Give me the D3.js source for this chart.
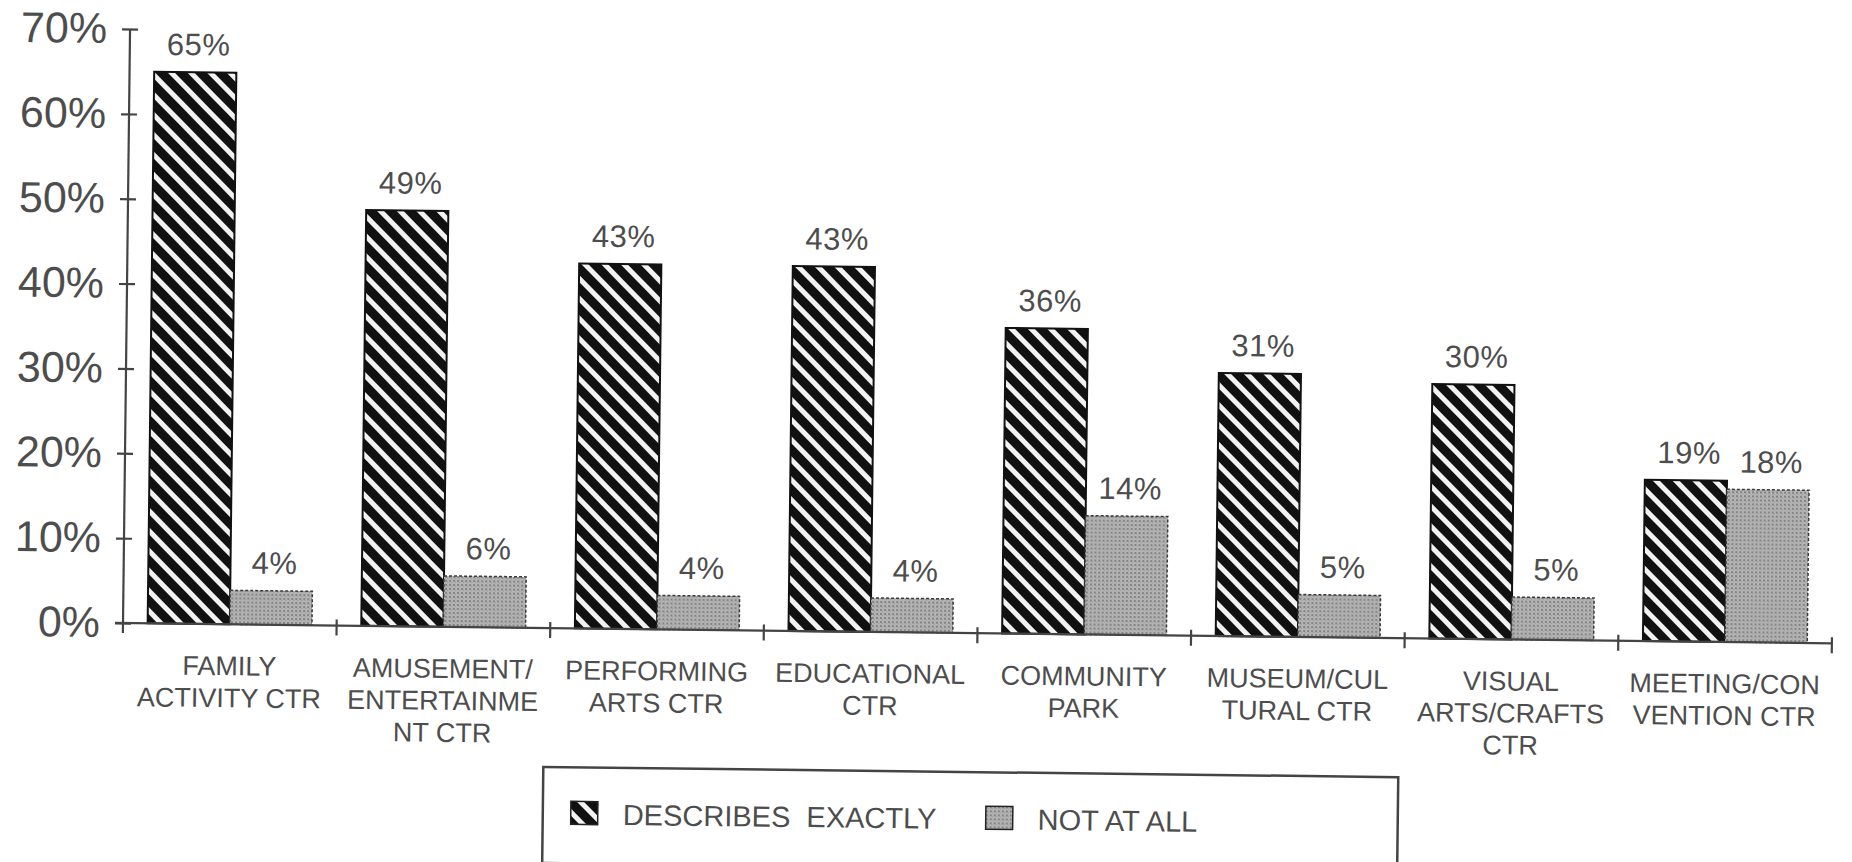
<!DOCTYPE html>
<html>
<head>
<meta charset="utf-8">
<script src="https://cdn.jsdelivr.net/npm/d3@7"></script>
<style>
  body { margin: 0; background: #fff; }
  text { font-family: "Liberation Sans", Arial, sans-serif; fill: #4d4d4d; }
</style>
</head>
<body>
<script>
// chart data
var categories = [
  ["FAMILY", "ACTIVITY CTR"],
  ["AMUSEMENT/", "ENTERTAINME", "NT CTR"],
  ["PERFORMING", "ARTS CTR"],
  ["EDUCATIONAL", "CTR"],
  ["COMMUNITY", "PARK"],
  ["MUSEUM/CUL", "TURAL CTR"],
  ["VISUAL", "ARTS/CRAFTS", "CTR"],
  ["MEETING/CON", "VENTION CTR"]
];
var seriesNames = ["DESCRIBES  EXACTLY", "NOT AT ALL"];
var describesExactly = [65, 49, 43, 43, 36, 31, 30, 19];
var notAtAll = [4, 6, 4, 4, 14, 5, 5, 18];
var yTicks = [0, 10, 20, 30, 40, 50, 60, 70];

var width = 1852, height = 862;
var plotLeft = 123, plotRight = 1832, plotTop = 29, plotBottom = 623;
var tilt = 0.68; // the scanned page is slightly rotated

var svg = d3.select("body").append("svg")
  .attr("width", width)
  .attr("height", height);

var defs = svg.append("defs");

// diagonal hatch: black with white "\" stripes
var hatch = defs.append("pattern")
  .attr("id", "hatch")
  .attr("patternUnits", "userSpaceOnUse")
  .attr("width", 14)
  .attr("height", 14)
  .attr("patternTransform", "rotate(-45)");
hatch.append("rect").attr("width", 14).attr("height", 14).attr("fill", "#111");
hatch.append("rect").attr("x", 4).attr("width", 5).attr("height", 14).attr("fill", "#f2f2f2");

// grey stipple
var dots = defs.append("pattern")
  .attr("id", "dots")
  .attr("patternUnits", "userSpaceOnUse")
  .attr("width", 4)
  .attr("height", 4);
dots.append("rect").attr("width", 4).attr("height", 4).attr("fill", "#b4b4b4");
dots.append("rect").attr("width", 2).attr("height", 2).attr("fill", "#858585");
dots.append("rect").attr("x", 2).attr("y", 2).attr("width", 1).attr("height", 1).attr("fill", "#999");

var g = svg.append("g")
  .attr("transform", "rotate(" + tilt + "," + plotLeft + "," + plotBottom + ")");

var x0 = d3.scaleBand()
  .domain(d3.range(categories.length))
  .range([plotLeft, plotRight])
  .padding(0);

var x1 = d3.scaleBand()
  .domain([0, 1])
  .range([0, x0.bandwidth()])
  .paddingInner(0)
  .paddingOuter(0.3);

var y = d3.scaleLinear()
  .domain([0, 70])
  .range([plotBottom, plotTop]);

var fills = ["url(#hatch)", "url(#dots)"];

var rows = categories.map(function(c, i) {
  return [describesExactly[i], notAtAll[i]];
});

var groups = g.selectAll("g.group")
  .data(rows)
  .enter()
  .append("g")
  .attr("class", "group")
  .attr("transform", function(d, i) { return "translate(" + x0(i) + ",0)"; });

groups.selectAll("rect")
  .data(function(d) { return d; })
  .enter()
  .append("rect")
  .attr("x", function(d, j) { return x1(j); })
  .attr("y", function(d) { return y(d); })
  .attr("width", x1.bandwidth())
  .attr("height", function(d) { return y(0) - y(d); })
  .attr("fill", function(d, j) { return fills[j]; })
  .attr("stroke", function(d, j) { return j == 0 ? "#111" : "#3a3a3a"; })
  .attr("stroke-width", function(d, j) { return j == 0 ? 2 : 1.5; })
  .attr("stroke-dasharray", function(d, j) { return j == 0 ? null : "3,2"; });

groups.selectAll("text.value")
  .data(function(d) { return d; })
  .enter()
  .append("text")
  .attr("class", "value")
  .attr("x", function(d, j) { return x1(j) + x1.bandwidth() / 2 + 3; })
  .attr("y", function(d) { return y(d) - 17; })
  .attr("text-anchor", "middle")
  .style("font-size", "31px")
  .style("letter-spacing", "0.5px")
  .text(function(d) { return d + "%"; });

// axes
var yAxis = d3.axisLeft(y)
  .tickValues(yTicks)
  .tickSize(9)
  .tickPadding(14)
  .tickFormat(function(d) { return d + "%"; });

var yAxisG = g.append("g")
  .attr("transform", "translate(" + plotLeft + ",0)")
  .call(yAxis);
yAxisG.select(".domain").attr("d", "M0," + (plotBottom + 10) + "V" + plotTop);
yAxisG.selectAll(".tick line").attr("x1", 8).attr("x2", -8);
yAxisG.selectAll(".tick text")
  .style("font-size", "43px")
  .style("font-family", "\"Liberation Sans\", Arial, sans-serif")
  .attr("fill", "#555");
yAxisG.selectAll("path, line").attr("stroke", "#444").attr("stroke-width", 2.2);

var xAxisG = g.append("g").attr("class", "xaxis");
xAxisG.append("line")
  .attr("x1", plotLeft - 8).attr("x2", plotRight)
  .attr("y1", plotBottom).attr("y2", plotBottom)
  .attr("stroke", "#444").attr("stroke-width", 2.2);
xAxisG.selectAll("line.tick")
  .data(d3.range(categories.length))
  .enter()
  .append("line")
  .attr("class", "tick")
  .attr("x1", function(i) { return x0(i) + x0.bandwidth(); })
  .attr("x2", function(i) { return x0(i) + x0.bandwidth(); })
  .attr("y1", plotBottom - 6)
  .attr("y2", plotBottom + 10)
  .attr("stroke", "#444").attr("stroke-width", 2.2);

xAxisG.selectAll("text.cat")
  .data(categories)
  .enter()
  .append("text")
  .attr("class", "cat")
  .attr("text-anchor", "middle")
  .style("font-size", "27px")
  .each(function(lines, i) {
    var t = d3.select(this);
    lines.forEach(function(line, k) {
      t.append("tspan")
        .attr("x", x0(i) + x0.bandwidth() / 2)
        .attr("y", plotBottom + 51 + k * 32)
        .text(line);
    });
  });

// legend
var legend = g.append("g").attr("transform", "translate(545,762)");
legend.append("rect")
  .attr("width", 855)
  .attr("height", 96)
  .attr("fill", "none")
  .attr("stroke", "#444")
  .attr("stroke-width", 2.5);

var legendX = [28, 443];
var items = legend.selectAll("g.item")
  .data(seriesNames)
  .enter()
  .append("g")
  .attr("class", "item")
  .attr("transform", function(d, i) { return "translate(" + legendX[i] + ",34)"; });
items.append("rect")
  .attr("width", 27)
  .attr("height", 23)
  .attr("fill", function(d, i) { return fills[i]; })
  .attr("stroke", "#222")
  .attr("stroke-width", 1.5);
items.append("text")
  .attr("x", 52)
  .attr("y", 23)
  .style("font-size", "29px")
  .style("white-space", "pre")
  .text(function(d) { return d; });
</script>
</body>
</html>
